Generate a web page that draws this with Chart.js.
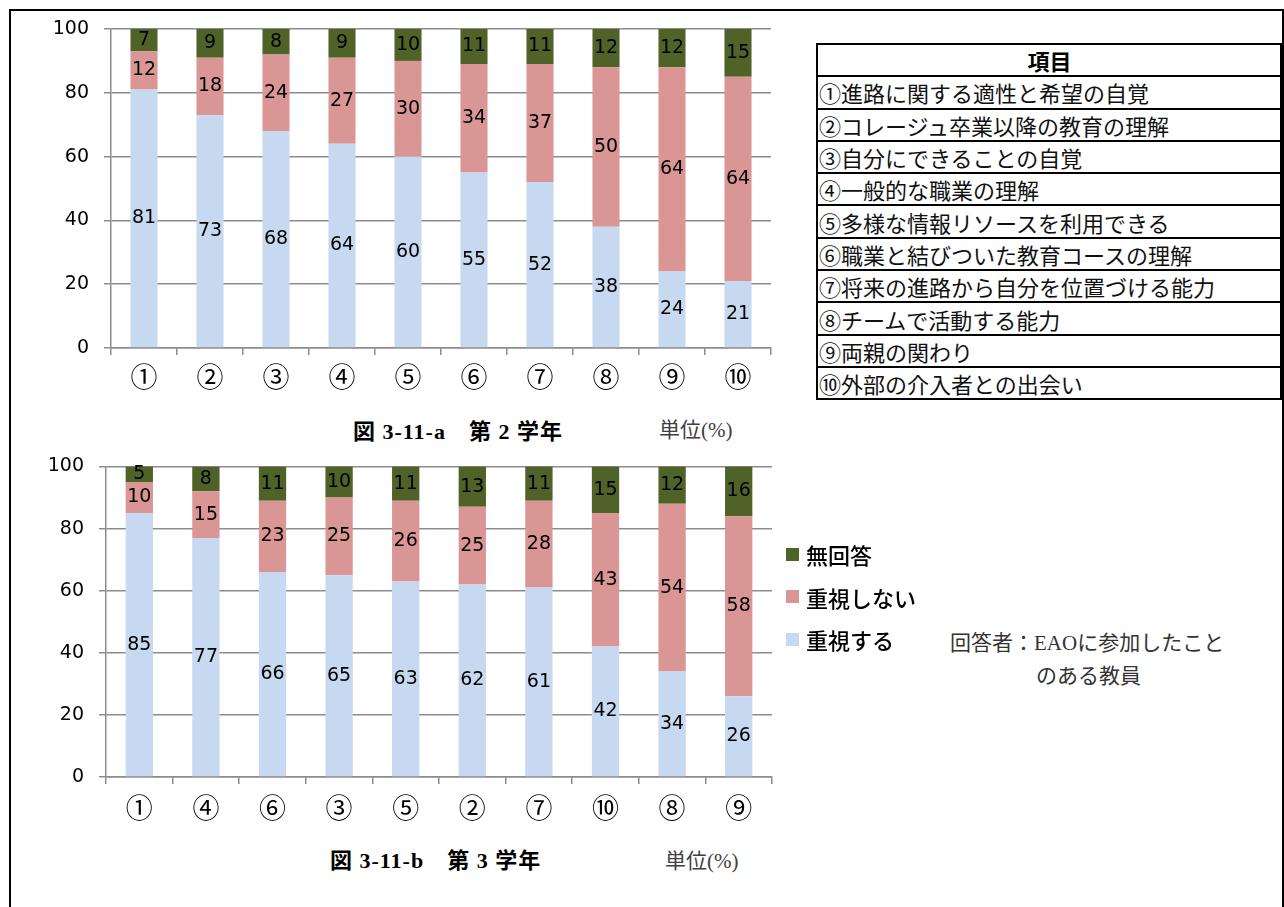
<!DOCTYPE html>
<html>
<head>
<meta charset="utf-8">
<script src="https://cdn.jsdelivr.net/npm/chart.js@4/dist/chart.umd.min.js"></script>
<style>
    body { margin: 0; background: #fff; width: 1284px; height: 907px; overflow: hidden; position: relative; font-family: "Noto Sans CJK JP", sans-serif; }
    #frame { position: absolute; left: 9px; top: 9px; width: 1271px; height: 940px; border: 2px solid #000; }
    canvas { position: absolute; }
    #chartA { left: 20px; top: 15px; }
    #chartB { left: 20px; top: 452px; }
    .caption { position: absolute; font-family: "Liberation Serif", "Noto Sans CJK JP", serif; font-weight: bold; font-size: 22px; letter-spacing: 1px; color: #000; white-space: pre; }
    .unit { position: absolute; font-family: "Liberation Serif", "Noto Sans CJK JP", serif; font-size: 21px; color: #404040; white-space: nowrap; }
    #items { position: absolute; left: 816px; top: 43px; width: 466px; border-collapse: collapse; }
    #items tr { height: 32.3px; }
    #items td { border: 2px solid #000; padding: 0 0 0 1px; font-size: 22px; line-height: 28px; color: #111; white-space: nowrap; }
    #items td.head { text-align: center; font-weight: bold; color: #000; }
    #legend { position: absolute; left: 786px; top: 533px; }
    .lg { height: 42.5px; display: flex; align-items: center; font-size: 22px; font-weight: 500; color: #000; }
    .lg span.box { width: 13px; height: 13px; margin-right: 7px; display: inline-block; }
    .note { position: absolute; font-family: "Liberation Serif", "Noto Sans CJK JP", serif; font-size: 21px; color: #333; white-space: nowrap; }
</style>
</head>
<body>
<div id="frame"></div>
<canvas id="chartA" width="770" height="380"></canvas>
<canvas id="chartB" width="770" height="380"></canvas>
<div class="caption" style="left:353px; top:413px;">図 3-11-a　第 2 学年</div>
<div class="unit" style="left:659px; top:413px;">単位(%)</div>
<div class="caption" style="left:330px; top:842px;">図 3-11-b　第 3 学年</div>
<div class="unit" style="left:665px; top:844px;">単位(%)</div>
<table id="items"></table>
<div id="legend"></div>
<div class="note" style="left:950px; top:626px;">回答者：EAOに参加したこと</div>
<div class="note" style="left:1036px; top:659px;">のある教員</div>
<script>
// series (bottom to top of each bar)
let seriesNames = ["重視する", "重視しない", "無回答"];
let seriesColors = ["#C6D9F0", "#D99694", "#4F6228"];

// 第2学年
let labelsA = ["①", "②", "③", "④", "⑤", "⑥", "⑦", "⑧", "⑨", "⑩"];
let importantA = [81, 73, 68, 64, 60, 55, 52, 38, 24, 21];
let notImportantA = [12, 18, 24, 27, 30, 34, 37, 50, 64, 64];
let noAnswerA = [7, 9, 8, 9, 10, 11, 11, 12, 12, 15];

// 第3学年
let labelsB = ["①", "④", "⑥", "③", "⑤", "②", "⑦", "⑩", "⑧", "⑨"];
let importantB = [85, 77, 66, 65, 63, 62, 61, 42, 34, 26];
let notImportantB = [10, 15, 23, 25, 26, 25, 28, 43, 54, 58];
let noAnswerB = [5, 8, 11, 10, 11, 13, 11, 15, 12, 16];

let yTicks = [0, 20, 40, 60, 80, 100];

let itemHeader = "項目";
let itemNames = [
    "①進路に関する適性と希望の自覚",
    "②コレージュ卒業以降の教育の理解",
    "③自分にできることの自覚",
    "④一般的な職業の理解",
    "⑤多様な情報リソースを利用できる",
    "⑥職業と結びついた教育コースの理解",
    "⑦将来の進路から自分を位置づける能力",
    "⑧チームで活動する能力",
    "⑨両親の関わり",
    "⑩外部の介入者との出会い"
];

// table of items
let table = document.getElementById("items");
let html = '<tr><td class="head">' + itemHeader + '</td></tr>';
itemNames.forEach(function (name) {
    html += '<tr><td>' + name + '</td></tr>';
});
table.innerHTML = html;

// legend, top series first
let legend = document.getElementById("legend");
for (let i = seriesNames.length - 1; i >= 0; i--) {
    legend.innerHTML += '<div class="lg"><span class="box" style="background:' + seriesColors[i] + '"></span>' + seriesNames[i] + '</div>';
}

// value labels in the middle of each segment
const segmentLabels = {
    id: "segmentLabels",
    afterDatasetsDraw(chart) {
        let ctx = chart.ctx;
        ctx.save();
        ctx.font = "19px 'DejaVu Sans'";
        ctx.fillStyle = "#000";
        ctx.textAlign = "center";
        ctx.textBaseline = "middle";
        chart.data.datasets.forEach(function (ds, i) {
            chart.getDatasetMeta(i).data.forEach(function (bar, j) {
                ctx.fillText(ds.data[j], bar.x, (bar.y + bar.base) / 2);
            });
        });
        ctx.restore();
    }
};

function makeChart(id, labels, series, yWidth, pad, labelPad) {
    return new Chart(document.getElementById(id), {
        type: "bar",
        data: {
            labels: labels,
            datasets: series.map(function (values, i) {
                return {
                    label: seriesNames[i],
                    data: values,
                    backgroundColor: seriesColors[i],
                    borderWidth: 0,
                    categoryPercentage: 1,
                    barPercentage: 0.41
                };
            })
        },
        options: {
            responsive: false,
            animation: false,
            devicePixelRatio: 1,
            layout: { padding: pad },
            plugins: { legend: { display: false }, tooltip: { enabled: false } },
            scales: {
                x: {
                    stacked: true,
                    grid: { display: true, drawOnChartArea: false, drawTicks: true, tickLength: 7, color: "#8c8c8c", lineWidth: 1.5 },
                    border: { display: true, color: "#8c8c8c", width: 1.5 },
                    ticks: { font: { family: "Noto Sans CJK JP", size: 27 }, color: "#000", padding: labelPad, maxRotation: 0 },
                    afterFit: function (scale) { scale.height = 45; }
                },
                y: {
                    stacked: true,
                    min: 0,
                    max: 100,
                    afterBuildTicks: function (scale) {
                        scale.ticks = yTicks.map(function (v) { return { value: v }; });
                    },
                    grid: { color: "#8c8c8c", lineWidth: 1.5, tickLength: 7 },
                    border: { display: true, color: "#8c8c8c", width: 1.5 },
                    ticks: { font: { family: "DejaVu Sans", size: 19 }, color: "#000", padding: 15 },
                    afterFit: function (scale) {
                        scale.width = yWidth;
                        scale.paddingTop = 0;
                        scale.paddingBottom = 0;
                    }
                }
            }
        },
        plugins: [segmentLabels]
    });
}

makeChart("chartA", labelsA, [importantA, notImportantA, noAnswerA], 91, { left: 0, right: 19, top: 14, bottom: 2 }, 6);
makeChart("chartB", labelsB, [importantB, notImportantB, noAnswerB], 86, { left: 0, right: 18, top: 14.5, bottom: 10 }, 8);
</script>
</body>
</html>
